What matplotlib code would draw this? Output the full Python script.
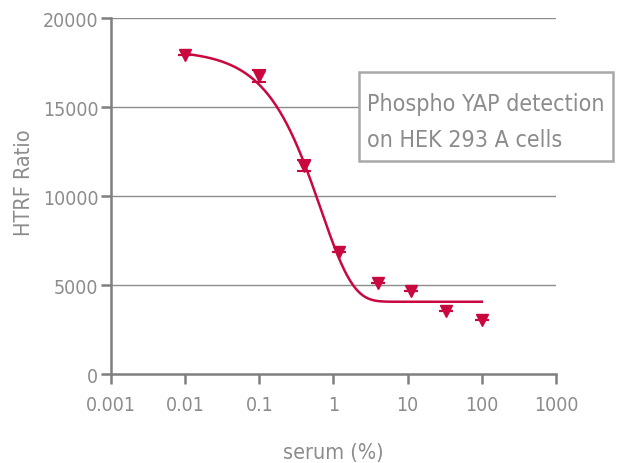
import numpy as np
import matplotlib
matplotlib.use("Agg")
import matplotlib.pyplot as plt
import matplotlib.font_manager as fm
from matplotlib.patches import Rectangle

# Данные
serum = [0.01, 0.1, 0.4, 1.2, 4, 11, 33, 100]
htrf = [17900, 16750, 11700, 6850, 5100, 4650, 3550, 3050]
htrf_err = [0, 350, 300, 0, 0, 0, 0, 0]

# Параметры аппроксимации (экспоненциальный спад)
fit_top = 18200
fit_bottom = 4060
fit_k = 1.48
fit_range = [0.01, 100]

grey = "#8c8c8c"
red = "#c8083f"

# Ищем узкий шрифт, если он есть
narrow = None
for f in fm.fontManager.ttflist:
    if ("Narrow" in f.name or "Condensed" in f.name or f.stretch in ("condensed", "semi-condensed")) \
            and f.style == "normal" and f.weight in (400, "normal", "regular"):
        narrow = f
        break
if narrow is not None:
    plt.rcParams["font.family"] = [narrow.name, "DejaVu Sans"]
    plt.rcParams["font.stretch"] = narrow.stretch
    fs_tick, fs_lab, fs_box = 14, 15.5, 16.7
else:
    plt.rcParams["font.family"] = ["Roboto", "DejaVu Sans"]
    fs_tick, fs_lab, fs_box = 12, 14, 15

fig = plt.figure(figsize=(6.21, 4.64), dpi=100)
ax = fig.add_axes([0.1787, 0.1918, 0.7166, 0.767])

# Сетка
for v in [5000, 10000, 15000, 20000]:
    ax.axhline(v, color=grey, lw=1.0, zorder=1)

# Кривая
xf = np.logspace(np.log10(fit_range[0]), np.log10(fit_range[1]), 400)
yf = fit_bottom + (fit_top - fit_bottom) * np.exp(-fit_k * xf)
ax.plot(xf, yf, color=red, lw=1.8, zorder=3)

# Точки
ax.errorbar(serum, htrf, yerr=htrf_err, fmt="v", color=red, ms=8,
            capsize=5, elinewidth=1.5, capthick=1.5, zorder=4)

ax.set_xscale("log")
ax.set_xlim(0.001, 1000)
ax.set_ylim(0, 20000)
ax.set_xticks([0.001, 0.01, 0.1, 1, 10, 100, 1000])
ax.set_xticklabels(["0.001", "0.01", "0.1", "1", "10", "100", "1000"])
ax.set_yticks([0, 5000, 10000, 15000, 20000])
ax.set_yticklabels(["0", "5000", "10000", "15000", "20000"])
ax.minorticks_off()

for s in ["top", "right"]:
    ax.spines[s].set_visible(False)
for s in ["left", "bottom"]:
    ax.spines[s].set_color("#7f7f7f")
    ax.spines[s].set_linewidth(1.8)
ax.tick_params(axis="both", colors="#7f7f7f", labelcolor=grey, length=7,
               width=1.8, labelsize=fs_tick)
ax.tick_params(axis="y", pad=2)
ax.tick_params(axis="x", pad=8)

ax.set_xlabel("serum (%)", fontsize=fs_lab, color=grey, va="center", ha="center")
ax.xaxis.set_label_coords(0.5, -0.219)
ax.set_ylabel("HTRF Ratio", fontsize=fs_lab, color=grey, va="center", ha="center")
ax.yaxis.set_label_coords(-0.1955, 0.539)

# Подпись в рамке
fig.patches.append(Rectangle((0.578, 0.651), 0.409, 0.1918, transform=fig.transFigure,
                             fc="white", ec="#a8a8a8", lw=1.8, zorder=5))
fig.text(0.591, 0.7608, "Phospho YAP detection", fontsize=fs_box, color=grey,
         ha="left", va="baseline", zorder=6)
fig.text(0.591, 0.683, "on HEK 293 A cells", fontsize=fs_box, color=grey,
         ha="left", va="baseline", zorder=6)

fig.savefig("out.png", dpi=100)
